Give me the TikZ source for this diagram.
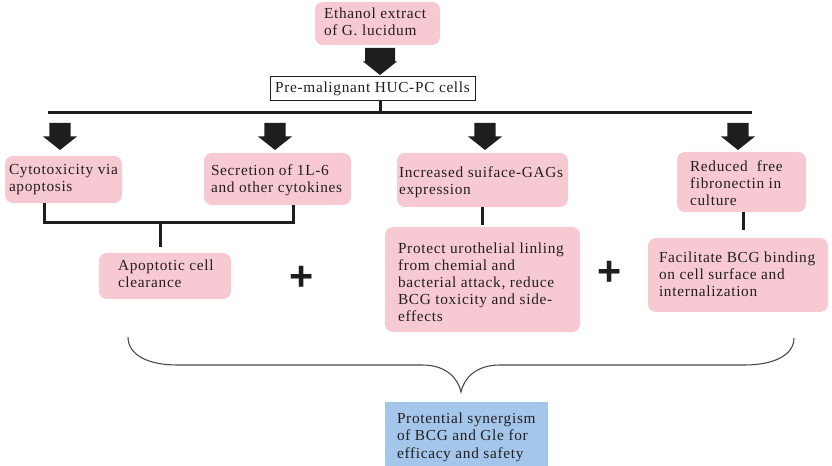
\documentclass[tikz,border=0pt]{standalone}
\usepackage{fontspec}
\setmainfont{Liberation Serif}[LetterSpace=4.5]
\newfontfamily\plusfont{Liberation Sans}
\definecolor{pinkc}{RGB}{247,201,211}
\definecolor{bluec}{RGB}{163,198,234}
\definecolor{txtc}{RGB}{35,31,32}
\definecolor{linec}{RGB}{30,30,30}
\definecolor{bracec}{RGB}{70,70,70}
\newcommand\bt[3][0pt]{\makebox[#2][l]{\raisebox{0pt}[\dimexpr\height+#1\relax]{\begin{tabular}{@{}l@{}}#3\end{tabular}}}}
\tikzset{
  pics/barrow/.style={code={\fill[linec] (-#1,0) -- (#1,0) -- (#1,13.5) -- (17,13.5) -- (0,27) -- (-17,13.5) -- (-#1,13.5) -- cycle;}},
  pbox/.style={fill=pinkc, rounded corners=6pt, inner ysep=0pt, text=txtc, font=\fontsize{11.5}{12.75}\selectfont},
  bbox/.style={fill=bluec, inner ysep=0pt, text=txtc, font=\fontsize{11.5}{13.1}\selectfont},
  conn/.style={draw=linec, line width=2.25pt},
  bracepath/.style={draw=bracec, line width=0.8pt},
  plussign/.style={font=\plusfont\bfseries\fontsize{31}{31}\selectfont, text=linec, inner sep=0pt}
}
\begin{document}
\begin{tikzpicture}[x=0.75pt,y=-0.75pt]
\useasboundingbox (0,0) rectangle (832,466);
% boxes
\node[pbox, inner xsep=6.75pt, minimum height=32.25pt] (eth) at (377.5,23.5) {\bt{80.25pt}{Ethanol extract\\of G. lucidum}};
\node[draw=linec, line width=0.75pt, minimum width=153.75pt, minimum height=18pt, inner sep=0pt, text=txtc, font=\fontsize{11.5}{12.75}\selectfont] (pre) at (372.5,89) {Pre-malignant HUC-PC cells};
\node[pbox, inner xsep=3pt, minimum height=35.25pt] (cyto) at (63.5,179.5) {\bt{81.75pt}{Cytotoxicity via\\apoptosis}};
\node[pbox, inner xsep=5.25pt, minimum height=39pt] (secr) at (277.5,179) {\bt[3pt]{99.75pt}{Secretion of 1L-6\\and other cytokines}};
\node[pbox, inner xsep=1.5pt, minimum height=40.5pt] (incr) at (482.5,180) {\bt[4pt]{125.25pt}{Increased suiface-GAGs\\expression}};
\node[pbox, inner xsep=9.75pt, minimum height=45pt] (redu) at (741.5,182) {\bt[4.5pt]{77.25pt}{Reduced\ \ free\\fibronectin in\\culture}};
\node[pbox, inner xsep=14.25pt, minimum height=34.5pt] (apop) at (165,276) {\bt{70.5pt}{Apoptotic cell\\clearance}};
\node[pbox, inner xsep=9.75pt, minimum height=78.75pt] (prot) at (482.5,279.5) {\bt[7.5pt]{126.75pt}{Protect urothelial linling\\from chemial and\\bacterial attack, reduce\\BCG toxicity and side-\\effects}};
\node[pbox, inner xsep=8.25pt, minimum height=55.5pt] (faci) at (738,275) {\bt[1.5pt]{118.5pt}{Facilitate BCG binding\\on cell surface and\\internalization}};
\node[bbox, inner xsep=9pt, minimum height=53.25pt] (syn) at (466.5,437.5) {\bt{104.25pt}{Protential synergism\\of BCG and Gle for\\efficacy and safety}};
% plus signs
\node[plussign] (plus1) at (302,278) {+};
\node[plussign] (plus2) at (610,273) {+};
% block arrows
\pic at (380,48) {barrow=15};
\pic at (60,123) {barrow=10.7};
\pic at (275,123) {barrow=10.7};
\pic at (485,123) {barrow=10.7};
\pic at (738,123) {barrow=10.7};
% bus
\coordinate (busmid) at (380,113);
\coordinate (busL) at (48,113);
\coordinate (busR) at (752,113);
\draw[conn] (pre.south -| busmid) -- (busmid);
\draw[conn] (busL) -- (busR);
% bracket cyto-secr
\coordinate (j1) at (44,223);
\coordinate (j2) at (293,223);
\coordinate (jm) at (160,223);
\draw[conn] (cyto.south -| j1) -- (j1) -- (j2) -- (secr.south -| j2);
\draw[conn, shorten >=4.5pt] (jm) -- (apop.north -| jm);
\draw[conn, shorten >=1.5pt] (incr.south) -- (prot.north);
\coordinate (rf) at (743,212);
\draw[conn, shorten >=6pt] (redu.south -| rf) -- (faci.north -| rf);
% brace
\coordinate (brL) at (128,337);
\coordinate (brR) at (794,338);
\coordinate (brT) at (461,392);
\draw[bracepath] (brL) .. controls (128,356) and (150,365) .. (177,365) -- (422,365)
  .. controls (446,365) and (458,378) .. (brT)
  .. controls (464,378) and (476,365) .. (500,365) -- (745,365)
  .. controls (772,365) and (794,356) .. (brR);
\end{tikzpicture}
\end{document}
